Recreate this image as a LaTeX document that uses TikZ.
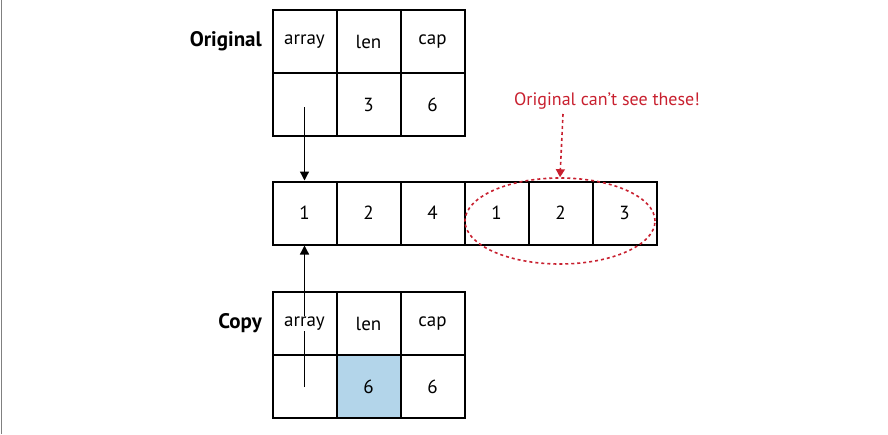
\documentclass[tikz,border=0pt]{standalone}
\usepackage{fontspec}
\setmainfont{PT Sans}
\usetikzlibrary{arrows.meta,shapes.geometric}
\definecolor{redd}{HTML}{C8202F}
\definecolor{lblue}{HTML}{B3D5EA}
\begin{document}
\begin{tikzpicture}[x=1pt,y=-1pt,
  cell/.style={draw,line width=2pt,minimum width=64pt,minimum height=63pt,inner sep=0pt,font=\fontsize{19}{20}\selectfont},
  lbl/.style={font=\bfseries\fontsize{21}{22}\selectfont,anchor=east,inner sep=0pt},
  arr/.style={line width=1.3pt,-{Triangle[length=9pt,width=9pt]}}]
\useasboundingbox (0,0) rectangle (888,434);
\draw[gray,line width=1pt] (1.5,0) -- (1.5,434);
% original
\node[cell] (oa) at (304.5,41.5) {array};
\node[cell] (ol) at (368.5,41.5) {len};
\node[cell] (oc) at (432.5,41.5) {cap};
\node[cell] (op) at (304.5,104.5) {};
\node[cell] (o3) at (368.5,104.5) {3};
\node[cell] (o6) at (432.5,104.5) {6};
\node[lbl] (olab) at (262,41) {Original};
% array
\foreach \v [count=\i] in {1,2,4,1,2,3}{
  \node[cell] (m\i) at ({240.5+64*\i},213) {\v};
}
% copy
\node[cell,fill=white] (ca) at (304.5,323.5) {};
\node[cell] (cl) at (368.5,323.5) {len};
\node[cell] (cc) at (432.5,323.5) {cap};
\node[cell] (cp) at (304.5,386.5) {};
\node[cell,fill=lblue] (c6a) at (368.5,386.5) {6};
\node[cell] (c6b) at (432.5,386.5) {6};
\node[lbl] (clab) at (262,323) {Copy};
% arrows
\coordinate (os) at (304.5,107);
\coordinate (cs) at (304.5,387);
\draw[arr] (os) -- (m1.north);
\draw[arr] (cs) -- (m1.south);
\node[fill=white,inner sep=1pt,font=\fontsize{19}{20}\selectfont] (catxt) at (304.5,323.5) {array};
% ellipse
\node[draw=redd,dashed,line width=1.6pt,ellipse,minimum width=190pt,minimum height=86pt,inner sep=0pt] (ell) at (560,221) {};
\node[text=redd,font=\fontsize{18}{20}\selectfont] (rt) at (607,101) {Original can’t see these!};
\draw[redd,dashed,line width=1.6pt,-{Triangle[length=8pt,width=9pt]}] (563,114) -- (ell.north);
\end{tikzpicture}
\end{document}
